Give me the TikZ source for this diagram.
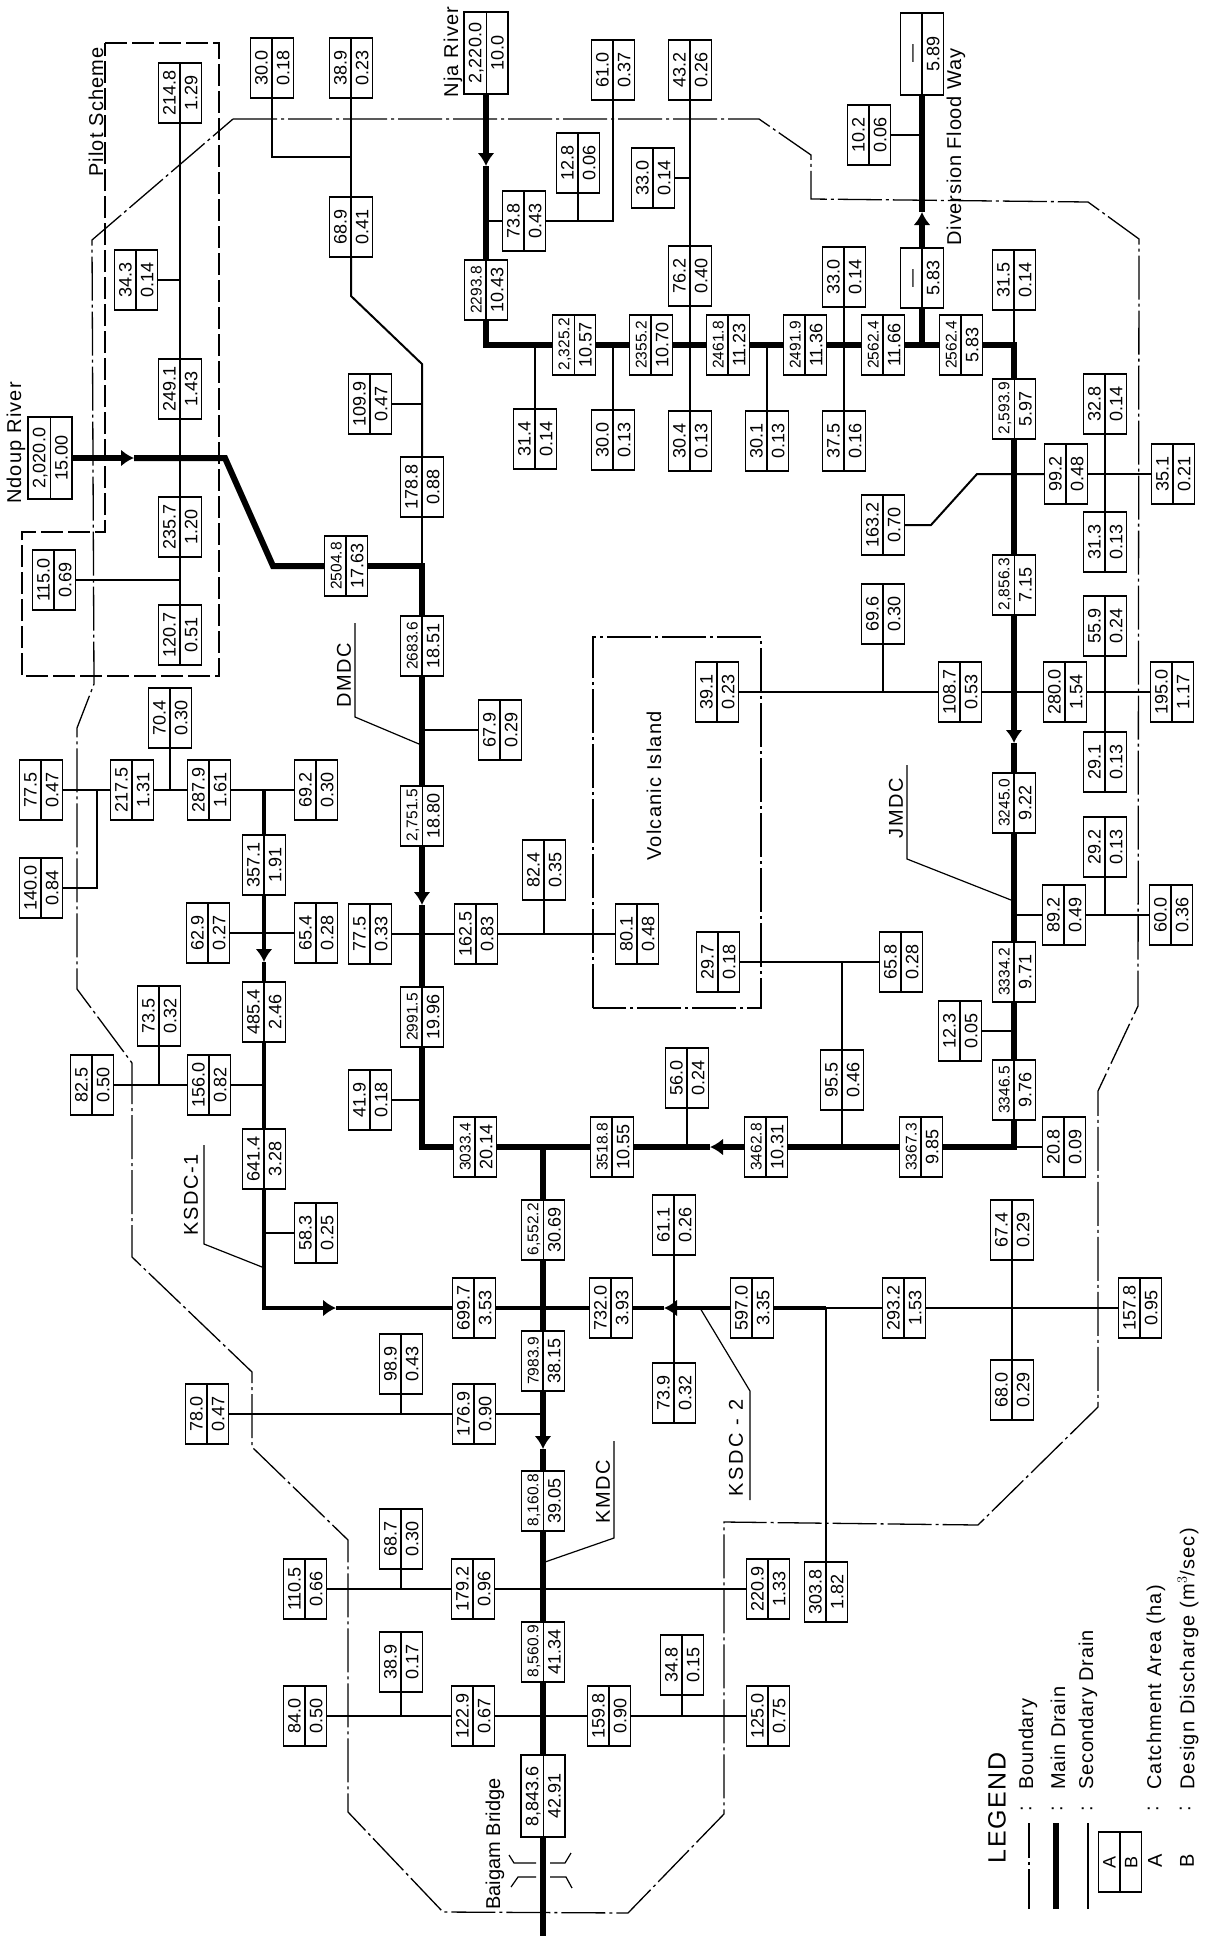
\documentclass[tikz,border=0pt]{standalone}
\usepackage{fontspec}
\setmainfont{Liberation Sans}
\usetikzlibrary{shapes.multipart, arrows.meta}

\newcommand{\dv}[2]{\rule[-1.5pt]{0pt}{16pt}#1\nodepart{two}\rule[-1.5pt]{0pt}{16pt}#2}
\newcommand{\nm}{\fontsize{15.5}{15.5}\selectfont}

\tikzset{
  dbox/.style={draw, fill=white, line width=1.2pt, rotate=90, rectangle split,
    rectangle split parts=2, text width=50pt, align=center, inner xsep=5pt,
    inner ysep=2.2pt, font=\fontsize{18}{18}\selectfont},
  dlong/.style={dbox, text width=72pt},
  lbl/.style={rotate=90, inner sep=0pt, font=\fontsize{20}{22}\selectfont},
  main/.style={line width=6pt},
  mid/.style={line width=3.6pt},
  sec/.style={line width=2pt},
  lead/.style={line width=1.2pt},
  flow/.style={-{Latex[length=13pt, width=17pt]}},
  boundary/.style={line width=1.3pt, dash pattern=on 44pt off 4pt on 3pt off 4pt},
  pilot/.style={line width=1.3pt, dash pattern=on 22pt off 5pt}
}

\begin{document}
\begin{tikzpicture}[x=1pt, y=-1pt]
  \useasboundingbox (0,0) rectangle (1205,1948);

  % catchment boxes
  \node[dbox] (b2148) at (180,93) {\dv{214.8}{1.29}};
  \node[dbox] (b343) at (136,280) {\dv{34.3}{0.14}};
  \node[dbox] (b2491) at (180,389) {\dv{249.1}{1.43}};
  \node[dbox] (b2357) at (180,527) {\dv{235.7}{1.20}};
  \node[dbox] (b1207) at (180,635) {\dv{120.7}{0.51}};
  \node[dbox] (b1150) at (54,580) {\dv{115.0}{0.69}};
  \node[dlong] (b20200) at (50,458) {\dv{2,020.0}{15.00}};
  \node[dbox] (b300a) at (272,68) {\dv{30.0}{0.18}};
  \node[dbox] (b389a) at (351,68) {\dv{38.9}{0.23}};
  \node[dbox] (b689) at (351,227) {\dv{68.9}{0.41}};
  \node[dbox] (b1099) at (370,404) {\dv{109.9}{0.47}};
  \node[dbox] (b1788) at (422,487) {\dv{178.8}{0.88}};
  \node[dbox] (b25048) at (346,566) {\dv{\nm 2504.8}{17.63}};
  \node[dbox] (b26836) at (422,646) {\dv{\nm 2683.6}{18.51}};
  \node[dlong] (b22200) at (486,53) {\dv{2,220.0}{10.0}};
  \node[dbox] (b128) at (578,163) {\dv{12.8}{0.06}};
  \node[dbox] (b738) at (524,221) {\dv{73.8}{0.43}};
  \node[dbox] (b22938) at (486,290) {\dv{\nm 2293.8}{10.43}};
  \node[dbox] (b23252) at (574,345) {\dv{\nm 2,325.2}{10.57}};
  \node[dbox] (b314) at (535,439) {\dv{31.4}{0.14}};
  \node[dbox] (b300b) at (613,440) {\dv{30.0}{0.13}};
  \node[dbox] (b610) at (613,70) {\dv{61.0}{0.37}};
  \node[dbox] (b432) at (690,70) {\dv{43.2}{0.26}};
  \node[dbox] (b330a) at (653,178) {\dv{33.0}{0.14}};
  \node[dbox] (b762) at (690,276) {\dv{76.2}{0.40}};
  \node[dbox] (b23552) at (651,345) {\dv{\nm 2355.2}{10.70}};
  \node[dbox] (b24618) at (728,345) {\dv{\nm 2461.8}{11.23}};
  \node[dbox] (b24919) at (805,345) {\dv{\nm 2491.9}{11.36}};
  \node[dbox] (b25624a) at (883,345) {\dv{\nm 2562.4}{11.66}};
  \node[dbox] (b304) at (690,441) {\dv{30.4}{0.13}};
  \node[dbox] (b301) at (767,441) {\dv{30.1}{0.13}};
  \node[dbox] (b330b) at (844,277) {\dv{33.0}{0.14}};
  \node[dbox] (b375) at (844,441) {\dv{37.5}{0.16}};
  \node[dbox] (bdiv) at (922,278) {\dv{---}{5.83}};
  \node[dlong] (bout) at (922,54) {\dv{---}{5.89}};
  \node[dbox] (b102) at (869,135) {\dv{10.2}{0.06}};
  \node[dbox] (b25624b) at (961,345) {\dv{\nm 2562.4}{5.83}};
  \node[dbox] (b315) at (1014,280) {\dv{31.5}{0.14}};
  \node[dbox] (b25939) at (1014,409) {\dv{\nm 2,593.9}{5.97}};
  \node[dbox] (b328) at (1105,404) {\dv{32.8}{0.14}};
  \node[dbox] (b992) at (1066,474) {\dv{99.2}{0.48}};
  \node[dbox] (b351) at (1173,474) {\dv{35.1}{0.21}};
  \node[dbox] (b313) at (1105,542) {\dv{31.3}{0.13}};
  \node[dbox] (b1632) at (883,525) {\dv{163.2}{0.70}};
  \node[dbox] (b696) at (883,614) {\dv{69.6}{0.30}};
  \node[dbox] (b28563) at (1014,585) {\dv{\nm 2,856.3}{7.15}};
  \node[dbox] (b559) at (1105,626) {\dv{55.9}{0.24}};
  \node[dbox] (b391) at (717,692) {\dv{39.1}{0.23}};
  \node[dbox] (b1087) at (960,692) {\dv{108.7}{0.53}};
  \node[dbox] (b2800) at (1065,692) {\dv{280.0}{1.54}};
  \node[dbox] (b1950) at (1172,692) {\dv{195.0}{1.17}};
  \node[dbox] (b291) at (1105,762) {\dv{29.1}{0.13}};
  \node[dbox] (b32450) at (1014,803) {\dv{\nm 3245.0}{9.22}};
  \node[dbox] (b292) at (1105,847) {\dv{29.2}{0.13}};
  \node[dbox] (b892) at (1064,915) {\dv{89.2}{0.49}};
  \node[dbox] (b600) at (1171,915) {\dv{60.0}{0.36}};
  \node[dbox] (b801) at (637,934) {\dv{80.1}{0.48}};
  \node[dbox] (b297) at (718,962) {\dv{29.7}{0.18}};
  \node[dbox] (b658) at (901,962) {\dv{65.8}{0.28}};
  \node[dbox] (b33342) at (1014,972) {\dv{\nm 3334.2}{9.71}};
  \node[dbox] (b123) at (960,1031) {\dv{12.3}{0.05}};
  \node[dbox] (b33465) at (1014,1090) {\dv{\nm 3346.5}{9.76}};
  \node[dbox] (b955) at (842,1080) {\dv{95.5}{0.46}};
  \node[dbox] (b560) at (687,1078) {\dv{56.0}{0.24}};
  \node[dbox] (b34628) at (766,1147) {\dv{\nm 3462.8}{10.31}};
  \node[dbox] (b33673) at (921,1147) {\dv{\nm 3367.3}{9.85}};
  \node[dbox] (b208) at (1064,1147) {\dv{20.8}{0.09}};
  \node[dbox] (b35188) at (612,1147) {\dv{\nm 3518.8}{10.55}};
  \node[dbox] (b611) at (674,1225) {\dv{61.1}{0.26}};
  \node[dbox] (b674) at (1012,1230) {\dv{67.4}{0.29}};
  \node[dbox] (b704) at (170,718) {\dv{70.4}{0.30}};
  \node[dbox] (b775a) at (41,790) {\dv{77.5}{0.47}};
  \node[dbox] (b2175) at (132,790) {\dv{217.5}{1.31}};
  \node[dbox] (b2879) at (209,790) {\dv{287.9}{1.61}};
  \node[dbox] (b692) at (316,790) {\dv{69.2}{0.30}};
  \node[dbox] (b679) at (500,730) {\dv{67.9}{0.29}};
  \node[dbox] (b27515) at (422,816) {\dv{\nm 2,751.5}{18.80}};
  \node[dbox] (b3571) at (264,865) {\dv{357.1}{1.91}};
  \node[dbox] (b1400) at (41,888) {\dv{140.0}{0.84}};
  \node[dbox] (b629) at (208,933) {\dv{62.9}{0.27}};
  \node[dbox] (b654) at (316,933) {\dv{65.4}{0.28}};
  \node[dbox] (b775b) at (370,934) {\dv{77.5}{0.33}};
  \node[dbox] (b1625) at (476,934) {\dv{162.5}{0.83}};
  \node[dbox] (b824) at (544,870) {\dv{82.4}{0.35}};
  \node[dbox] (b735) at (159,1016) {\dv{73.5}{0.32}};
  \node[dbox] (b4854) at (264,1012) {\dv{485.4}{2.46}};
  \node[dbox] (b29915) at (422,1017) {\dv{\nm 2991.5}{19.96}};
  \node[dbox] (b825) at (92,1085) {\dv{82.5}{0.50}};
  \node[dbox] (b1560) at (209,1085) {\dv{156.0}{0.82}};
  \node[dbox] (b419) at (370,1100) {\dv{41.9}{0.18}};
  \node[dbox] (b30334) at (475,1147) {\dv{\nm 3033.4}{20.14}};
  \node[dbox] (b6414) at (264,1159) {\dv{641.4}{3.28}};
  \node[dbox] (b583) at (316,1233) {\dv{58.3}{0.25}};
  \node[dbox] (b65522) at (543,1230) {\dv{\nm 6,552.2}{30.69}};
  \node[dbox] (b6997) at (474,1308) {\dv{699.7}{3.53}};
  \node[dbox] (b7320) at (611,1308) {\dv{732.0}{3.93}};
  \node[dbox] (b989) at (401,1364) {\dv{98.9}{0.43}};
  \node[dbox] (b79839) at (543,1361) {\dv{\nm 7983.9}{38.15}};
  \node[dbox] (b780) at (207,1414) {\dv{78.0}{0.47}};
  \node[dbox] (b1769) at (474,1414) {\dv{176.9}{0.90}};
  \node[dbox] (b81608) at (543,1501) {\dv{\nm 8,160.8}{39.05}};
  \node[dbox] (b687) at (401,1539) {\dv{68.7}{0.30}};
  \node[dbox] (b1105) at (305,1589) {\dv{110.5}{0.66}};
  \node[dbox] (b1792) at (473,1589) {\dv{179.2}{0.96}};
  \node[dbox] (b85609) at (543,1652) {\dv{\nm 8,560.9}{41.34}};
  \node[dbox] (b389b) at (401,1662) {\dv{38.9}{0.17}};
  \node[dbox] (b840) at (305,1716) {\dv{84.0}{0.50}};
  \node[dbox] (b1229) at (473,1716) {\dv{122.9}{0.67}};
  \node[dbox] (b1598) at (609,1716) {\dv{159.8}{0.90}};
  \node[dlong] (b88436) at (543,1796) {\dv{8,843.6}{42.91}};
  \node[dbox] (b5970) at (752,1308) {\dv{597.0}{3.35}};
  \node[dbox] (b2932) at (904,1308) {\dv{293.2}{1.53}};
  \node[dbox] (b1578) at (1140,1308) {\dv{157.8}{0.95}};
  \node[dbox] (b739) at (674,1393) {\dv{73.9}{0.32}};
  \node[dbox] (b680) at (1012,1390) {\dv{68.0}{0.29}};
  \node[dbox] (b2209) at (768,1589) {\dv{220.9}{1.33}};
  \node[dbox] (b3038) at (826,1592) {\dv{303.8}{1.82}};
  \node[dbox] (b348) at (682,1665) {\dv{34.8}{0.15}};
  \node[dbox] (b1250) at (768,1716) {\dv{125.0}{0.75}};
  \node[dbox] (bkey) at (1120,1862) {\dv{A}{B}};

  % boundary, pilot scheme, island
  \draw[boundary] (233,119) -- (759,119) -- (811,155) -- (811,199) -- (1088,202)
    -- (1139,239) -- (1138,1006) -- (1098,1091) -- (1098,1407) -- (978,1525)
    -- (724,1522) -- (724,1814) -- (628,1913) -- (443,1912) -- (348,1812)
    -- (348,1540) -- (252,1447) -- (252,1372) -- (132,1257) -- (132,1063)
    -- (77,989) -- (77,728) -- (94,684) -- (92,240) -- cycle;
  \draw[pilot] (105,43) -- (219,43) -- (219,676) -- (22,676) -- (22,532)
    -- (105,532) -- cycle;
  \draw[boundary] (593,1008) -- (593,637) -- (761,637) -- (761,1008) -- cycle;

  % main drains
  \coordinate (ndA) at (134,458);
  \coordinate (nd1) at (225,458);
  \coordinate (nd2) at (273,566);
  \coordinate (dm1) at (422,566);
  \coordinate (dmA) at (422,905);
  \coordinate (dm2) at (422,1147);
  \draw[main, flow] (b20200) -- (ndA);
  \draw[main] (ndA) -- (nd1) -- (nd2) -- (b25048);
  \draw[main] (b25048) -- (dm1) -- (b26836);
  \draw[main] (b26836) -- (b27515);
  \draw[main, flow] (b27515) -- (dmA);
  \draw[main] (dmA) -- (b29915);
  \draw[main] (b29915) -- (dm2) -- (b30334);
  \draw[main] (b30334) -- (b35188);

  \coordinate (njA) at (486,166);
  \coordinate (nj1) at (486,345);
  \coordinate (dvJ) at (922,345);
  \coordinate (dvA) at (922,212);
  \draw[main, flow] (b22200) -- (njA);
  \draw[main] (njA) -- (b22938);
  \draw[main] (b22938) -- (nj1) -- (b23252);
  \draw[main] (b23252) -- (b23552);
  \draw[main] (b23552) -- (b24618);
  \draw[main] (b24618) -- (b24919);
  \draw[main] (b24919) -- (b25624a);
  \draw[main] (b25624a) -- (b25624b);
  \draw[main] (dvJ) -- (bdiv);
  \draw[main, flow] (bdiv) -- (dvA);
  \draw[main] (dvA) -- (bout);

  \coordinate (jm1) at (1014,345);
  \coordinate (jmB) at (1014,743);
  \coordinate (jm2) at (1014,1147);
  \coordinate (jmA) at (710,1147);
  \draw[main] (b25624b) -- (jm1) -- (b25939);
  \draw[main] (b25939) -- (b28563);
  \draw[main, flow] (b28563) -- (jmB);
  \draw[main] (jmB) -- (b32450);
  \draw[main] (b32450) -- (b33342);
  \draw[main] (b33342) -- (b33465);
  \draw[main] (b33465) -- (jm2) -- (b33673);
  \draw[main] (b33673) -- (b34628);
  \draw[main, flow] (b34628) -- (jmA);
  \draw[main] (jmA) -- (b35188);

  \coordinate (km0) at (543,1147);
  \coordinate (kmA) at (543,1449);
  \coordinate (kmE) at (543,1936);
  \draw[main] (km0) -- (b65522);
  \draw[main] (b65522) -- (b79839);
  \draw[main, flow] (b79839) -- (kmA);
  \draw[main] (kmA) -- (b81608);
  \draw[main] (b81608) -- (b85609);
  \draw[main] (b85609) -- (b88436);
  \draw[main] (b88436) -- (kmE);

  % KSDC
  \coordinate (k1a) at (264,790);
  \coordinate (k1b) at (264,962);
  \coordinate (k1c) at (264,1308);
  \coordinate (k1d) at (336,1308);
  \coordinate (k2a) at (664,1308);
  \coordinate (k2c) at (826,1308);
  \draw[mid] (k1a) -- (b3571);
  \draw[mid, flow] (b3571) -- (k1b);
  \draw[mid] (k1b) -- (b4854);
  \draw[mid] (b4854) -- (b6414);
  \draw[mid, flow] (b6414) -- (k1c) -- (k1d);
  \draw[mid] (k1d) -- (b6997);
  \draw[mid] (b6997) -- (b7320);
  \draw[mid, flow] (b5970) -- (k2a);
  \draw[mid] (k2a) -- (b7320);
  \draw[mid] (b5970) -- (k2c);

  % secondary drains
  \coordinate (s343) at (180,280);
  \coordinate (s115) at (180,580);
  \draw[sec] (b2148) -- (b2491);
  \draw[sec] (b2491) -- (b2357);
  \draw[sec] (b2357) -- (b1207);
  \draw[sec] (b343) -- (s343);
  \draw[sec] (b1150) -- (s115);

  \coordinate (s30a) at (272,157);
  \coordinate (s30b) at (351,157);
  \coordinate (s68a) at (351,296);
  \coordinate (s68b) at (422,364);
  \coordinate (s109) at (422,404);
  \coordinate (s679) at (422,730);
  \draw[sec] (b300a) -- (s30a) -- (s30b);
  \draw[sec] (b389a) -- (b689);
  \draw[sec] (b689) -- (s68a) -- (s68b) -- (b1788);
  \draw[sec] (b1788) -- (dm1);
  \draw[sec] (b1099) -- (s109);
  \draw[sec] (b679) -- (s679);

  \coordinate (s824) at (544,934);
  \draw[sec] (b775b) -- (b1625);
  \draw[sec] (b1625) -- (b801);
  \draw[sec] (b824) -- (s824);
  \coordinate (s419) at (422,1100);
  \draw[sec] (b419) -- (s419);

  \coordinate (s73a) at (486,221);
  \coordinate (s73b) at (613,221);
  \coordinate (s128) at (578,221);
  \draw[sec] (b738) -- (s73a);
  \draw[sec] (b738) -- (s73b) -- (b610);
  \draw[sec] (b128) -- (s128);

  \coordinate (s314) at (535,345);
  \coordinate (s300) at (613,345);
  \coordinate (s330) at (690,178);
  \coordinate (s301) at (767,345);
  \draw[sec] (b314) -- (s314);
  \draw[sec] (b300b) -- (s300);
  \draw[sec] (b432) -- (b762);
  \draw[sec] (b762) -- (b304);
  \draw[sec] (b330a) -- (s330);
  \draw[sec] (b301) -- (s301);
  \draw[sec] (b330b) -- (b375);
  \coordinate (s102) at (922,135);
  \draw[sec] (b102) -- (s102);
  \coordinate (s315) at (1014,345);
  \draw[sec] (b315) -- (s315);

  \coordinate (s163a) at (931,525);
  \coordinate (s163b) at (977,474);
  \draw[sec] (b1632) -- (s163a) -- (s163b) -- (b992);
  \draw[sec] (b992) -- (b351);
  \draw[sec] (b328) -- (b313);

  \coordinate (s696) at (883,692);
  \draw[sec] (b391) -- (b1087);
  \draw[sec] (b696) -- (s696);
  \draw[sec] (b1087) -- (b2800);
  \draw[sec] (b2800) -- (b1950);
  \draw[sec] (b559) -- (b291);

  \coordinate (s892) at (1014,915);
  \coordinate (s292) at (1105,915);
  \draw[sec] (s892) -- (b892);
  \draw[sec] (b892) -- (b600);
  \draw[sec] (b292) -- (s292);

  \coordinate (s658) at (842,962);
  \coordinate (s955) at (842,1147);
  \coordinate (s123) at (1014,1031);
  \coordinate (s560) at (687,1147);
  \draw[sec] (b297) -- (b658);
  \draw[sec] (s658) -- (b955);
  \draw[sec] (b955) -- (s955);
  \draw[sec] (b123) -- (s123);
  \draw[sec] (jm2) -- (b208);
  \draw[sec] (b560) -- (s560);

  \draw[sec] (b611) -- (b739);
  \draw[sec] (b674) -- (b680);
  \draw[sec] (k2c) -- (b2932);
  \draw[sec] (b2932) -- (b1578);
  \draw[sec] (b3038) -- (k2c);
  \coordinate (s583) at (264,1233);
  \draw[sec] (b583) -- (s583);

  \coordinate (s156) at (264,1085);
  \coordinate (s735) at (159,1085);
  \draw[sec] (b825) -- (b1560);
  \draw[sec] (b1560) -- (s156);
  \draw[sec] (b735) -- (s735);
  \draw[sec] (b629) -- (b654);
  \draw[sec] (b2879) -- (b692);
  \draw[sec] (b2175) -- (b2879);
  \coordinate (s704) at (170,790);
  \draw[sec] (b704) -- (s704);
  \coordinate (s140a) at (97,790);
  \coordinate (s140b) at (97,888);
  \draw[sec] (b775a) -- (b2175);
  \draw[sec] (s140a) -- (s140b) -- (b1400);

  \coordinate (s989) at (401,1414);
  \coordinate (s176) at (543,1414);
  \draw[sec] (b989) -- (s989);
  \draw[sec] (b780) -- (b1769);
  \draw[sec] (b1769) -- (s176);
  \coordinate (s687) at (401,1589);
  \draw[sec] (b687) -- (s687);
  \draw[sec] (b1105) -- (b1792);
  \draw[sec] (b1792) -- (b2209);
  \coordinate (s389) at (401,1716);
  \coordinate (s348) at (682,1716);
  \draw[sec] (b389b) -- (s389);
  \draw[sec] (b348) -- (s348);
  \draw[sec] (b840) -- (b1229);
  \draw[sec] (b1229) -- (b1598);
  \draw[sec] (b1598) -- (b1250);

  % bridge
  \draw[lead] (509,1855) -- (514,1863) -- (536,1863);
  \draw[lead] (550,1863) -- (565,1863) -- (571,1853);
  \draw[lead] (511,1887) -- (518,1877) -- (536,1877);
  \draw[lead] (550,1877) -- (566,1877) -- (572,1888);

  % names of the drains
  \node[lbl] (dmdc) at (344,675) {\addfontfeature{LetterSpace=8}DMDC};
  \draw[lead] (355,623) -- (355,717) -- (419,744);
  \node[lbl] (ksdc1) at (191,1195) {\addfontfeature{LetterSpace=8}KSDC-1};
  \draw[lead] (204,1145) -- (204,1244) -- (262,1267);
  \node[lbl] (jmdc) at (896,808) {\addfontfeature{LetterSpace=8}JMDC};
  \draw[lead] (907,765) -- (907,859) -- (1011,900);
  \node[lbl] (ksdc2) at (736,1448) {\addfontfeature{LetterSpace=12}KSDC - 2};
  \draw[lead] (750,1500) -- (750,1391) -- (700,1308);
  \node[lbl] (kmdc) at (603,1492) {\addfontfeature{LetterSpace=8}KMDC};
  \draw[lead] (614,1441) -- (614,1538) -- (545,1562);

  \node[lbl] (ndoup) at (16,443) {\addfontfeature{LetterSpace=6}Ndoup River};
  \node[lbl] (pilotname) at (96,112) {\addfontfeature{LetterSpace=6}Pilot Scheme};
  \node[lbl] (nja) at (453,52) {\addfontfeature{LetterSpace=6}Nja River};
  \node[lbl] (floodway) at (956,147) {\addfontfeature{LetterSpace=4}Diversion Flood Way};
  \node[lbl] (island) at (654,786) {\addfontfeature{LetterSpace=6}Volcanic Island};
  \node[lbl] (bridge) at (495,1844) {Baigam Bridge};

  % legend
  \node[lbl, font=\fontsize{25}{27}\selectfont] (legend) at (997,1808) {\addfontfeature{LetterSpace=6}LEGEND};
  \draw[line width=1.3pt, dash pattern=on 40pt off 4pt on 3pt off 4pt] (1029,1909) -- (1029,1823);
  \draw[main] (1056,1909) -- (1056,1823);
  \draw[sec] (1088,1909) -- (1088,1823);
  \node[lbl] at (1026,1809) {:};
  \node[lbl] at (1057,1809) {:};
  \node[lbl] at (1087,1809) {:};
  \node[lbl] at (1153,1809) {:};
  \node[lbl] at (1185,1809) {:};
  \node[lbl, anchor=west] (lgb) at (1028,1790) {\addfontfeature{LetterSpace=4}Boundary};
  \node[lbl, anchor=west] (lgm) at (1058,1790) {\addfontfeature{LetterSpace=4}Main Drain};
  \node[lbl, anchor=west] (lgs) at (1088,1790) {\addfontfeature{LetterSpace=4}Secondary Drain};
  \node[lbl] (lga) at (1155,1861) {A};
  \node[lbl] (lgbb) at (1187,1861) {B};
  \node[lbl, anchor=west] (lgc) at (1156,1790) {\addfontfeature{LetterSpace=6}Catchment Area (ha)};
  \node[lbl, anchor=west] (lgd) at (1188,1790) {\addfontfeature{LetterSpace=6}Design Discharge (m$^3$/sec)};
\end{tikzpicture}
\end{document}
